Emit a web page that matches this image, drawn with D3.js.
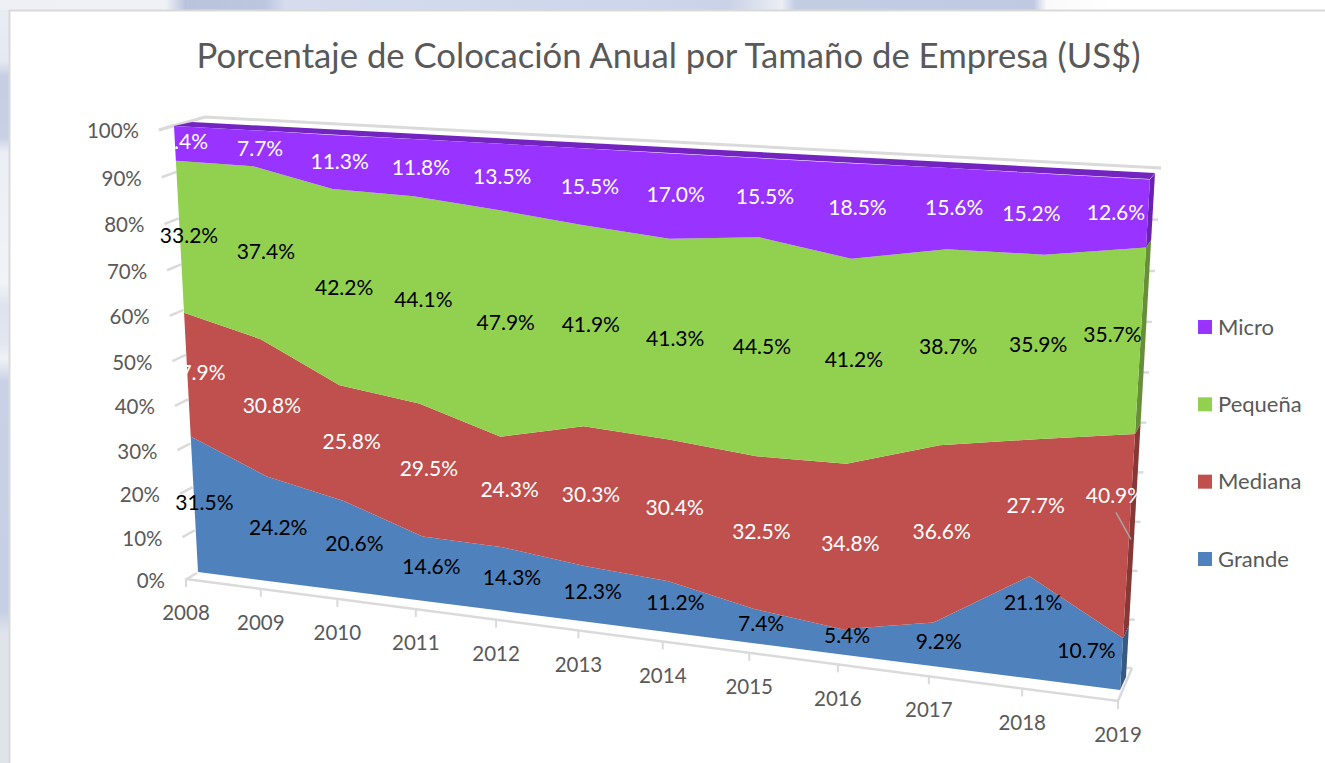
<!DOCTYPE html>
<html><head><meta charset="utf-8">
<script src="https://cdn.jsdelivr.net/npm/d3@7"></script>
<style>html,body{margin:0;padding:0;background:#fff;overflow:hidden}svg{display:block}text{font-family:Lato,"Open Sans",sans-serif}</style>
</head><body><svg id="c" width="1325" height="763"></svg>
<script>
const years=["2008","2009","2010","2011","2012","2013","2014","2015","2016","2017","2018","2019"];
const grande=[31.5,24.2,20.6,14.6,14.3,12.3,11.2,7.4,5.4,9.2,21.1,10.7];
const mediana=[27.9,30.8,25.8,29.5,24.3,30.3,30.4,32.5,34.8,36.6,27.7,40.9];
const pequena=[33.2,37.4,42.2,44.1,47.9,41.9,41.3,44.5,41.2,38.7,35.9,35.7];
const micro=[7.4,7.7,11.3,11.8,13.5,15.5,17.0,15.5,18.5,15.6,15.2,12.6];
const seriesNames=["Grande","Mediana","Pequeña","Micro"];
const seriesValues=[grande,mediana,pequena,micro];
const seriesColors=["#4f81bd","#c0504d","#92d050","#9933ff"];
const sideColors=["#375a84","#863836","#668f38","#6a23b0"];
const labelColors=["#000","#fff","#000","#fff"];
const yTicks=d3.range(0,101,10);
// hand nudges of the data labels away from the middle of their band (px)
const nudgeX=[[10,9,9,8,9,8,7,7,5,6,6,-35],[9,8,10,8,8,7,6,6,6,5,3,-14],[9,9,8,7,7,8,6,4,5,5,-2,-28],[10,8,8,8,6,8,6,5,5,6,-15,-32]];
const nudgeY=[[-2,-2,-3,-2,-2,-2,-4,-3,-6,-3,-25,-14],[-2,-3,-2,-2,-3,-2,-3,-2,-4,-3,-3,-42],[-2,-2,-1,-1,-2,-2,-2,-2,-3,-2,-3,-7],[-2,1,0,0,0,0,-2,-1,-4,-1,-1,-1]];

function face(tl,tr,br,bl){
  const [x0,y0]=bl,[x1,y1]=br,[x2,y2]=tr,[x3,y3]=tl;
  const dx1=x1-x2,dx2=x3-x2,sx=x0-x1+x2-x3,dy1=y1-y2,dy2=y3-y2,sy=y0-y1+y2-y3;
  const den=dx1*dy2-dx2*dy1;
  const g=(sx*dy2-dx2*sy)/den,h=(dx1*sy-sx*dy1)/den;
  const a=x1-x0+g*x1,b=x3-x0+h*x3,c=x0,d=y1-y0+g*y1,e=y3-y0+h*y3,f=y0;
  return (u,v)=>{const w=g*u+h*v+1;return [(a*u+b*v+c)/w,(d*u+e*v+f)/w];};
}
const front=face([174,126],[1150,179],[1120,690],[198,572]);
const back =face([192,122],[1155,173],[1126,677],[210,565]);
const wall =face([205,117],[1161,168],[1132,668],[210,565]);
const outer=face([162,130],[1148,190],[1118,701],[186,579]);
// left edges of the side wall, sharing the front face's vertical perspective
const leftIn =face([174,125],[1150,178],[1120,690],[197,573]);
const leftOut=face([159,130],[1135,183],[1105,695],[185,580]);

const xS=d3.scalePoint().domain(d3.range(years.length)).range([0,1]);
const yS=d3.scaleLinear().domain([0,100]).range([0,1]);

const svg=d3.select("#c");
const defs=svg.append("defs");
const gl=defs.append("linearGradient").attr("id","lft").attr("x1",0).attr("y1",0).attr("x2",0).attr("y2",1);
[[0,"#ebedf4"],[.08,"#e6e9f2"],[.1,"#c6cee4"],[.18,"#c8d0e5"],[.2,"#eceef5"],[.37,"#f2f3f7"],[.4,"#dfe3ed"],[.45,"#e2e6ef"],[.47,"#f0f2f5"],[.5,"#c8d1e6"],[.8,"#c5cfe5"],[.83,"#e0e3ea"],[1,"#e0e3ea"]].forEach(s=>gl.append("stop").attr("offset",s[0]).attr("stop-color",s[1]));
const gt=defs.append("linearGradient").attr("id","top").attr("x1",0).attr("y1",0).attr("x2",1).attr("y2",0);
[[0,"#eef0f6"],[.125,"#f0f1f6"],[.14,"#b9c3dc"],[.2,"#bcc6de"],[.215,"#d5dcee"],[.5,"#ccd5ea"],[.55,"#c9d2e6"],[.59,"#eceef4"],[.6,"#c3cde2"],[.78,"#bfc9e1"],[.79,"#fafafb"],[.84,"#ffffff"],[1,"#ffffff"]].forEach(s=>gt.append("stop").attr("offset",s[0]).attr("stop-color",s[1]));
svg.append("rect").attr("width",1325).attr("height",763).attr("fill","url(#lft)");
svg.append("rect").attr("x",0).attr("y",0).attr("width",1325).attr("height",10).attr("fill","url(#top)");
svg.append("rect").attr("x",9.5).attr("y",10.5).attr("width",1330).attr("height",770).attr("fill","#fff").attr("stroke","#d9d9d9").attr("stroke-width",2);

svg.append("text").attr("x",668.5).attr("y",56).attr("dy","0.35em").attr("text-anchor","middle").attr("fill","#595959").attr("font-size",34.7).text("Porcentaje de Colocación Anual por Tamaño de Empresa (US$)");

const lineP=d3.line();
const band="#dadada";
svg.append("path").attr("d",lineP([leftOut(0,yS(100)),wall(0,yS(100)),wall(1,yS(100))])).attr("fill","none").attr("stroke",band).attr("stroke-width",3);
svg.append("path").attr("d",lineP([outer(0,0),front(0,0),wall(1,0),outer(1,0)])+"Z").attr("fill","#fff");
svg.append("path").attr("d",lineP([outer(0,0),outer(1,0),wall(1,0)])).attr("fill","none").attr("stroke",band).attr("stroke-width",2.5);
svg.append("g").selectAll("path").data(yTicks).join("path").attr("d",t=>lineP([leftOut(0,yS(t)),leftIn(0,yS(t))])).attr("stroke",band).attr("stroke-width",2.5).attr("fill","none");
svg.append("g").selectAll("path").data(yTicks).join("path").attr("d",t=>{const p=wall(1,yS(t));return lineP([[p[0]-6,p[1]],p]);}).attr("stroke",band).attr("stroke-width",2.5).attr("fill","none");
svg.append("g").selectAll("path").data(years).join("path").attr("d",(y,i)=>{const p=outer(xS(i),0);return lineP([p,[p[0],p[1]+8]]);}).attr("stroke",band).attr("stroke-width",2).attr("fill","none");

const stack=d3.stack().keys(d3.range(4)).value((row,k)=>row[k]);
const rows=years.map((y,i)=>seriesValues.map(s=>s[i]));
const stacked=stack(rows);
const clampV=v=>Math.min(v,100);
svg.append("path").attr("d",lineP([front(0,yS(100)),back(0,yS(100)),back(1,yS(100)),front(1,yS(100))])+"Z").attr("fill","#7324c0");
svg.append("g").selectAll("path").data(stacked).join("path").attr("d",(s,k)=>{
  const d=s[s.length-1],a=clampV(d[0]),b=clampV(d[1]);
  return lineP([front(1,yS(a)),front(1,yS(b)),back(1,yS(b)),back(1,yS(a))])+"Z";
}).attr("fill",(s,k)=>sideColors[k]);
const area=d3.area()
  .x0((d,i)=>front(xS(i),yS(clampV(d[0])))[0]).y0((d,i)=>front(xS(i),yS(clampV(d[0])))[1])
  .x1((d,i)=>front(xS(i),yS(clampV(d[1])))[0]).y1((d,i)=>front(xS(i),yS(clampV(d[1])))[1]);
svg.append("g").selectAll("path").data(stacked).join("path").attr("d",area).attr("fill",(s,k)=>seriesColors[k]);

svg.append("g").selectAll("text").data(yTicks).join("text").attr("x",t=>leftOut(0,yS(t))[0]-20).attr("y",t=>leftOut(0,yS(t))[1]+1.2).attr("dy","0.35em").attr("text-anchor","end").attr("font-size",20.5).attr("fill","#595959").text(t=>t+"%");
svg.append("g").selectAll("text").data(years).join("text").attr("x",(y,i)=>outer(xS(i),0)[0]).attr("y",(y,i)=>outer(xS(i),0)[1]+34).attr("dy","0.35em").attr("text-anchor","middle").attr("font-size",20.5).attr("fill","#595959").text(y=>y);

const labelPos=(k,i)=>{const d=stacked[k][i],p=front(xS(i),yS((d[0]+d[1])/2));return [p[0]+nudgeX[k][i],p[1]+nudgeY[k][i]];};
// leader of the last Mediana label
{const l=labelPos(1,11),d=stacked[1][11],e=front(1,yS((d[0]+d[1])/2));
 svg.append("path").attr("d",lineP([[l[0]+1,l[1]+17],[e[0]+2,e[1]+2]])).attr("stroke","#a6a6a6").attr("stroke-width",1.5).attr("fill","none");}
stacked.forEach((s,k)=>{
  svg.append("g").selectAll("text").data(s).join("text")
    .attr("x",(d,i)=>labelPos(k,i)[0]).attr("y",(d,i)=>labelPos(k,i)[1])
    .attr("dy","0.35em").attr("text-anchor","middle").attr("font-size",21).attr("fill",labelColors[k])
    .text((d,i)=>seriesValues[k][i].toFixed(1)+"%");
});

const legendY=d3.scalePoint().domain([3,2,1,0]).range([327,559]);
const lg=svg.append("g").selectAll("g").data([3,2,1,0]).join("g").attr("transform",k=>`translate(1198,${legendY(k)})`);
lg.append("rect").attr("y",-7).attr("width",14).attr("height",14).attr("fill",k=>seriesColors[k]);
lg.append("text").attr("x",20).attr("dy","0.35em").attr("font-size",22).attr("fill","#595959").text(k=>seriesNames[k]);
</script></body></html>
